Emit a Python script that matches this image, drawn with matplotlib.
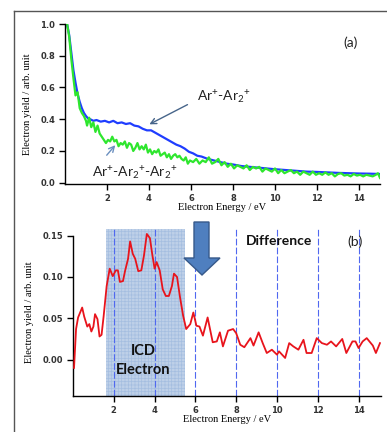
import numpy as np
import matplotlib
matplotlib.use("Agg")
import matplotlib.pyplot as plt
from matplotlib.patches import Polygon

plt.rcParams['mathtext.fontset'] = 'custom'
plt.rcParams['mathtext.rm'] = 'Lato'
plt.rcParams['mathtext.it'] = 'Lato'
plt.rcParams['hatch.linewidth'] = 0.5

# (a) electron yield, Ar+-Ar2+ coincidence
E_a = [0.1, 0.2, 0.3, 0.4, 0.5, 0.6, 0.7, 0.8, 0.9, 1.0, 1.1, 1.2, 1.35, 1.5, 1.7, 1.9, 2.1, 2.3,
       2.5, 2.7, 2.9, 3.1, 3.3, 3.5, 3.7, 3.9, 4.1, 4.3, 4.5, 4.7, 4.9, 5.1, 5.3, 5.5, 5.7, 5.9,
       6.1, 6.3, 6.5, 6.8, 7.1, 7.4, 7.7, 8.0, 8.4, 8.8, 9.2, 9.6, 10.0, 10.5, 11.0, 11.5, 12.0,
       12.5, 13.0, 13.5, 14.0, 14.5, 15.0]
blue = [1.0, 0.93, 0.82, 0.71, 0.63, 0.56, 0.51, 0.47, 0.44, 0.42, 0.405, 0.40, 0.39, 0.395,
        0.385, 0.39, 0.38, 0.39, 0.375, 0.38, 0.37, 0.375, 0.36, 0.355, 0.34, 0.33, 0.33, 0.315,
        0.30, 0.285, 0.27, 0.255, 0.24, 0.23, 0.215, 0.195, 0.185, 0.17, 0.165, 0.15, 0.14,
        0.13, 0.12, 0.115, 0.105, 0.10, 0.095, 0.09, 0.085, 0.08, 0.075, 0.07, 0.068, 0.065,
        0.062, 0.06, 0.058, 0.057, 0.055]

# (a) electron yield, Ar+-Ar2+-Ar2+ coincidence
E_g = [0.1, 0.2, 0.3, 0.4, 0.5, 0.6, 0.7, 0.8, 0.9, 1.0, 1.05, 1.15, 1.25, 1.35, 1.45, 1.55, 1.65,
       1.75, 1.85, 1.95, 2.05, 2.15, 2.25, 2.35, 2.45, 2.55, 2.65, 2.75, 2.85, 2.95, 3.05, 3.15,
       3.25, 3.35, 3.45, 3.55, 3.65, 3.75, 3.85, 3.95, 4.05, 4.15, 4.25, 4.35, 4.45, 4.55, 4.65,
       4.75, 4.85, 4.95, 5.05, 5.15, 5.25, 5.35, 5.45, 5.55, 5.65, 5.75, 5.85, 5.95, 6.1, 6.25,
       6.4, 6.55, 6.7, 6.85, 7.0, 7.15, 7.3, 7.45, 7.6, 7.75, 7.9, 8.05, 8.2, 8.35, 8.5, 8.65,
       8.8, 8.95, 9.1, 9.25, 9.4, 9.55, 9.7, 9.85, 10.0, 10.15, 10.3, 10.45, 10.6, 10.75, 10.9,
       11.05, 11.2, 11.35, 11.5, 11.65, 11.8, 11.95, 12.1, 12.25, 12.4, 12.55, 12.7, 12.85, 13.0,
       13.15, 13.3, 13.45, 13.6, 13.75, 13.9, 14.05, 14.2, 14.35, 14.5, 14.65, 14.8, 14.9, 15.0]
green = [1.0, 0.92, 0.78, 0.66, 0.55, 0.57, 0.47, 0.44, 0.42, 0.39, 0.36, 0.41, 0.35, 0.38, 0.32,
         0.36, 0.31, 0.29, 0.27, 0.25, 0.27, 0.26, 0.29, 0.26, 0.27, 0.23, 0.25, 0.24, 0.26, 0.22,
         0.25, 0.24, 0.20, 0.22, 0.25, 0.21, 0.23, 0.21, 0.24, 0.19, 0.21, 0.18, 0.20, 0.19, 0.21,
         0.17, 0.18, 0.19, 0.16, 0.18, 0.15, 0.17, 0.18, 0.16, 0.17, 0.15, 0.14, 0.16, 0.12, 0.14,
         0.13, 0.15, 0.12, 0.14, 0.13, 0.16, 0.12, 0.13, 0.15, 0.11, 0.13, 0.10, 0.12, 0.09, 0.11,
         0.10, 0.09, 0.11, 0.08, 0.10, 0.09, 0.10, 0.07, 0.09, 0.08, 0.07, 0.09, 0.06, 0.08, 0.06,
         0.07, 0.08, 0.06, 0.07, 0.05, 0.07, 0.06, 0.05, 0.07, 0.05, 0.06, 0.05, 0.065, 0.05,
         0.06, 0.04, 0.055, 0.06, 0.045, 0.05, 0.04, 0.055, 0.045, 0.05, 0.04, 0.05, 0.045, 0.04,
         0.05, 0.06, 0.03]

# (b) difference spectrum
E_b = [0.05, 0.15, 0.25, 0.45, 0.55, 0.7, 0.8, 0.9, 1.0, 1.08, 1.2, 1.3, 1.4, 1.5, 1.65, 1.8,
       1.95, 2.1, 2.2, 2.3, 2.45, 2.55, 2.7, 2.8, 2.93, 3.05, 3.2, 3.35, 3.48, 3.62, 3.77, 3.87,
       4.0, 4.1, 4.25, 4.4, 4.55, 4.7, 4.85, 4.95, 5.1, 5.25, 5.4, 5.55, 5.75, 5.9, 6.05, 6.2,
       6.37, 6.6, 6.85, 7.05, 7.2, 7.35, 7.6, 7.85, 8.0, 8.2, 8.4, 8.7, 8.85, 9.1, 9.3, 9.5,
       9.75, 10.0, 10.1, 10.4, 10.6, 10.8, 11.05, 11.3, 11.45, 11.7, 11.95, 12.2, 12.45, 12.65,
       12.9, 13.2, 13.4, 13.7, 13.85, 14.0, 14.2, 14.4, 14.7, 14.85, 15.05]
diff = [-0.01, 0.037, 0.051, 0.063, 0.052, 0.04, 0.043, 0.034, 0.04, 0.055, 0.049, 0.028, 0.03,
        0.052, 0.089, 0.11, 0.101, 0.108, 0.108, 0.094, 0.095, 0.107, 0.122, 0.143, 0.128, 0.122,
        0.107, 0.108, 0.126, 0.152, 0.147, 0.13, 0.11, 0.118, 0.108, 0.085, 0.077, 0.077, 0.089,
        0.104, 0.1, 0.075, 0.053, 0.037, 0.043, 0.057, 0.041, 0.04, 0.029, 0.051, 0.021, 0.022,
        0.033, 0.016, 0.035, 0.037, 0.032, 0.018, 0.015, 0.026, 0.017, 0.033, 0.02, 0.008, 0.012,
        0.006, 0.01, 0.002, 0.02, 0.016, 0.012, 0.024, 0.008, 0.008, 0.026, 0.02, 0.018, 0.022,
        0.016, 0.025, 0.008, 0.022, 0.022, 0.014, 0.022, 0.026, 0.017, 0.008, 0.02]

icd_lo, icd_hi = 1.6, 5.5
grid_E = [2, 4, 6, 8, 10, 12, 14]

W, H = 387, 432
fig = plt.figure(figsize=(W / 100, H / 100), dpi=100)

serif = 'Liberation Serif'
tick_kw = dict(direction='out', length=4, width=1, labelsize=6, labelcolor='#333333', pad=3)


def px(x, y):
    return (x / W, 1 - y / H)


def style(ax):
    for s in ('top', 'right'):
        ax.spines[s].set_visible(False)
    for s in ('left', 'bottom'):
        ax.spines[s].set_linewidth(1.0)
    ax.tick_params(**tick_kw)
    for lab in ax.get_xticklabels() + ax.get_yticklabels():
        lab.set_fontweight('bold')
        lab.set_family('DejaVu Sans')


# ---- panel (a)
ax1 = fig.add_axes([65 / W, (H - 184) / H, 315 / W, 160 / H])
ax1.plot(E_a, blue, color='#1f3dff', lw=1.6)
ax1.plot(E_g, green, color='#2ee62e', lw=1.6)
ax1.set_xlim(0, 15)
ax1.set_ylim(-0.008, 1.0)
ax1.set_xticks(grid_E)
ax1.set_yticks([0.0, 0.2, 0.4, 0.6, 0.8, 1.0])
ax1.yaxis.set_major_formatter(plt.FormatStrFormatter('%.1f'))
style(ax1)
ax1.set_xlabel('Electron Energy / eV', family=serif, fontsize=7.5, labelpad=0)
ax1.set_ylabel('Electron yield / arb. unit', family=serif, fontsize=7.5, labelpad=6)

ax1.text(6.29, 0.54, r'Ar$^{+}$-Ar$_{2}$$^{+}$', family='Lato', fontsize=10, color='#222222',
         va='center', ha='left')
ax1.annotate('', xy=(3.9, 0.36), xytext=(5.95, 0.50),
             arrowprops=dict(arrowstyle='->', color='#47658a', lw=1.0))
ax1.text(3.31, 0.06, r'Ar$^{+}$-Ar$_{2}$$^{+}$-Ar$_{2}$$^{+}$', family='Lato', fontsize=10,
         color='#222222', va='center', ha='center')
ax1.annotate('', xy=(2.48, 0.25), xytext=(1.9, 0.16),
             arrowprops=dict(arrowstyle='->', color='#6a8fbf', lw=1.0))
ax1.text(13.62, 0.885, '(a)', family='Lato', fontsize=10, color='#222222', ha='center', va='center')

# ---- panel (b)
ax2 = fig.add_axes([73 / W, (H - 396) / H, 308 / W, 167 / H])
ax2.axvspan(icd_lo, icd_hi, facecolor='#bed0e8', edgecolor='#a5bee0', hatch='+++++', lw=0,
            zorder=0)
for e in grid_E:
    ax2.axvline(e, color='#5068f0', lw=0.8, ls=(0, (6, 2)), zorder=1)
ax2.plot(E_b, diff, color='#e8141c', lw=1.3, zorder=3)
ax2.set_xlim(0, 15.1)
ax2.set_ylim(-0.044, 0.158)
ax2.spines['left'].set_bounds(-0.044, 0.15)
ax2.set_xticks(grid_E)
ax2.set_yticks([0.0, 0.05, 0.10, 0.15])
ax2.yaxis.set_major_formatter(plt.FormatStrFormatter('%.2f'))
style(ax2)
ax2.set_xlabel('Electron Energy / eV', family=serif, fontsize=7.5, labelpad=0)
ax2.set_ylabel('Electron yield / arb. unit', family=serif, fontsize=7.5, labelpad=6)

ax2.text(3.45, -0.001, 'ICD\nElectron', family='Lato', fontweight='bold', fontsize=10.5,
         color='#111111', ha='center', va='center', linespacing=1.45)
ax2.text(10.1, 0.143, 'Difference', family='Lato', fontweight='bold', fontsize=10,
         color='#111111', ha='center', va='center')
ax2.text(13.85, 0.143, '(b)', family='Lato', fontsize=10, color='#222222', ha='center',
         va='center')

# big down arrow between the panels
arrow_px = [(194, 222), (209, 222), (209, 258), (220, 258), (202, 275), (184, 258), (194, 258)]
fig.patches.append(Polygon([px(x, y) for x, y in arrow_px], closed=True,
                           transform=fig.transFigure, facecolor='#4f7fbf',
                           edgecolor='#36598a', lw=1.0, zorder=5))

# outer frame
fig.add_artist(plt.Line2D([14 / W, 14 / W], [0, 1 - 11 / H], transform=fig.transFigure,
                          color='#555555', lw=1.0))
fig.add_artist(plt.Line2D([14 / W, 1], [1 - 11 / H, 1 - 11 / H], transform=fig.transFigure,
                          color='#555555', lw=1.0))

fig.savefig('out.png', dpi=100)
